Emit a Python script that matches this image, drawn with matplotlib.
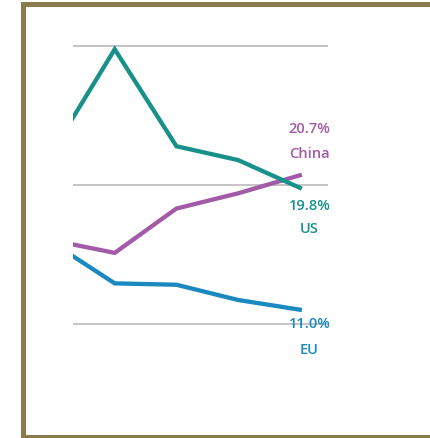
import matplotlib
matplotlib.use("Agg")
import matplotlib.pyplot as plt
from matplotlib.patches import Rectangle

# --- data (share of world total, %) ---
periods = [0, 1, 2, 3, 4]
us = [22.5, 29.8, 22.8, 21.8, 19.8]
china = [16.0, 15.1, 18.3, 19.4, 20.7]
eu = [15.8, 12.9, 12.8, 11.7, 11.0]
series_names = ["US", "China", "EU"]
gridlines = [10, 20, 30]

teal = "#17918a"
purple = "#a35aa7"
blue = "#1a89bf"
frame_col = "#8b7b4c"

W, H = 431, 438
fig = plt.figure(figsize=(W / 100, H / 100), dpi=100)
fig.patch.set_facecolor("white")

# axes box in pixels: x 73..328, y 30..400 (from top)
ax = fig.add_axes([73 / W, (H - 400) / H, (328 - 73) / W, (400 - 30) / H])
ax.set_xlim(0.324, 4.457)
ax.set_ylim(4.48, 31.19)
ax.axis("off")

for g in gridlines:
    ax.axhline(g, color="#b4b4b4", lw=1.1, zorder=1)

ax.plot(periods, us, color=teal, lw=3.1, solid_joinstyle="miter", zorder=3)
ax.plot(periods, china, color=purple, lw=3.1, solid_joinstyle="miter", zorder=2)
ax.plot(periods, eu, color=blue, lw=3.1, solid_joinstyle="miter", zorder=2)

font = dict(family=["Open Sans", "DejaVu Sans"], fontsize=10.5, weight="semibold",
            ha="center", va="center", annotation_clip=False, zorder=4)
labels = [
    (china, "China", purple, 33, 15),
    (us, "US", teal, -13, -30),
    (eu, "EU", blue, -10, -29),
]
for vals, name, col, dy_val, dy_name in labels:
    x_end, y_end = periods[-1], vals[-1]
    ax.annotate(f"{y_end:.1f}%", (x_end, y_end), xytext=(7, dy_val),
                textcoords="offset points", color=col, **font)
    ax.annotate(name, (x_end, y_end), xytext=(7, dy_name),
                textcoords="offset points", color=col, **font)

# olive frame around the panel
def px_rect(x0, y0, x1, y1):
    fig.add_artist(Rectangle((x0 / W, 1 - y1 / H), (x1 - x0) / W, (y1 - y0) / H,
                             transform=fig.transFigure, color=frame_col, lw=0))

px_rect(21, 2, 26.5, 438)
px_rect(21, 2, 431, 7)
px_rect(21, 434.5, 431, 438)

fig.savefig("out.png", dpi=100)
